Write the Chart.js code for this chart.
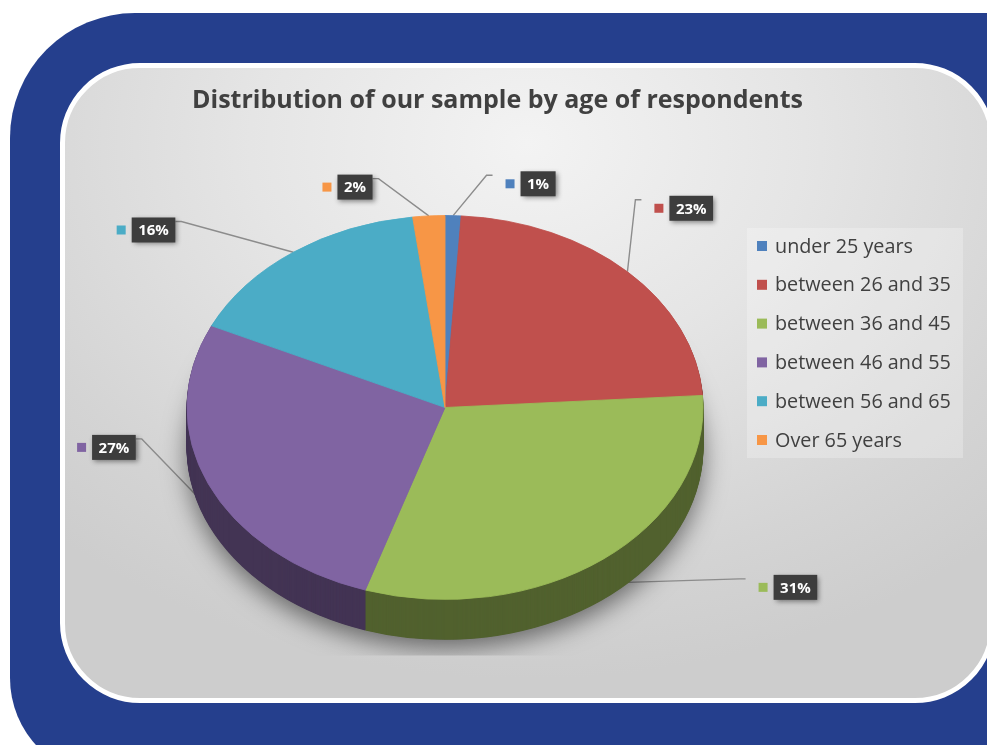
<!DOCTYPE html>
<html>
<head>
<meta charset="utf-8">
<title>Distribution of our sample by age of respondents</title>
<script src="https://cdn.jsdelivr.net/npm/chart.js@4.4.1/dist/chart.umd.min.js"></script>
<style>
  html, body { margin: 0; padding: 0; width: 987px; height: 745px; overflow: hidden; background: #ffffff; }
  #frame {
    position: absolute; left: 10px; top: 13px; width: 1010px; height: 765px;
    background: #253f8d; border-radius: 125px 0 0 100px;
  }
  #panel {
    position: absolute; left: 60px; top: 63px; width: 925px; height: 630px;
    border: 5px solid #ffffff; border-radius: 80px;
    background: radial-gradient(ellipse 75% 85% at 50% 12%, #f3f3f3 0%, #e5e5e5 40%, #d4d4d4 80%, #cdcdcd 100%);
  }
  #c { position: absolute; left: 0; top: 0; }
</style>
</head>
<body>
<div id="frame"></div>
<div id="panel"></div>
<canvas id="c" width="987" height="745"></canvas>
<script>
// ---- data ----
const chartTitle = 'Distribution of our sample by age of respondents';
const categories = [
  'under 25 years',
  'between 26 and 35',
  'between 36 and 45',
  'between 46 and 55',
  'between 56 and 65',
  'Over 65 years'
];
const shares = [1, 23, 31, 27, 16, 2];
const shareLabels = shares.map(v => v + '%');

// ---- styling ----
const palette = ['#4f81bd', '#c0504d', '#9bbb59', '#8064a2', '#4bacc6', '#f79646'];
const TILT = 0.744;   // vertical squash of the pie's top face
const DEPTH = 40;     // height of the pie's side wall (px)
// callout placement per slice: [angle nudge in degrees, distance as a multiple of the radius]
const calloutPlacement = [[15.4, 1.22], [-2.4, 1.41], [-17.6, 1.65], [14.2, 1.30], [-14.7, 1.46], [-13.3, 1.20]];
const legendBox = { left: 747, top: 228, width: 216, height: 230, firstRow: 18, rowGap: 38.8, key: 10 };
const titleBox = { left: 192, middle: 101, size: 25 };
const TEXT = '#404040';
const FAMILY = '"Open Sans"';

function shade(hex, f) {
  const n = parseInt(hex.slice(1), 16);
  const r = (n >> 16) & 255, g = (n >> 8) & 255, b = n & 255;
  return `rgb(${Math.round(r * f)},${Math.round(g * f)},${Math.round(b * f)})`;
}
const wallColors = palette.map(c => shade(c, 0.52));

function pieGeom(chart) {
  const arcs = chart.getDatasetMeta(0).data;
  const a0 = arcs[0];
  return { arcs, cx: a0.x, cy: a0.y, R: a0.outerRadius };
}
function tiltAround(ctx, cy, dy) {
  ctx.translate(0, cy + dy);
  ctx.scale(1, TILT);
  ctx.translate(0, -cy);
}
function wedge(ctx, cx, cy, R, a, b) {
  ctx.beginPath();
  ctx.moveTo(cx, cy);
  ctx.arc(cx, cy, R, a, b);
  ctx.closePath();
}

function calloutGeometry(chart) {
  const { arcs, cx, cy, R } = pieGeom(chart);
  return arcs.map((arc, i) => {
    const mid = (arc.startAngle + arc.endAngle) / 2;
    let ax = cx + R * Math.cos(mid);
    let ay = cy + R * Math.sin(mid) * TILT;
    if (Math.sin(mid) > 0.3) ay += DEPTH * 0.6;
    const [nudge, f] = calloutPlacement[i];
    const a = mid + nudge * Math.PI / 180;
    return {
      ax, ay,
      lx: cx + R * f * Math.cos(a),
      ly: cy + R * f * Math.sin(a) * TILT,
      text: shareLabels[i],
      color: palette[i]
    };
  });
}

const LABEL_FONT = 'bold 15px ' + FAMILY;
function boxFor(ctx, c) {
  ctx.font = LABEL_FONT;
  const w = ctx.measureText(c.text).width + 13;
  const h = 25;
  return { left: c.lx - w / 2, top: c.ly - h / 2, w, h };
}

// Side wall, floor shadow and the squash of the top face
const pie3d = {
  id: 'pie3d',
  beforeDatasetsDraw(chart) {
    const ctx = chart.ctx;
    const { arcs, cx, cy, R } = pieGeom(chart);

    // leader lines sit underneath the pie
    ctx.save();
    ctx.strokeStyle = '#8c8c8c';
    ctx.lineWidth = 1.4;
    calloutGeometry(chart).forEach(c => {
      const b = boxFor(ctx, c);
      const y0 = b.top + 4;
      let sx, ex;
      if (c.lx > c.ax) { sx = b.left - 15 - 13; ex = sx - 6; }
      else { sx = b.left + b.w; ex = sx + 6; }
      ctx.beginPath();
      ctx.moveTo(sx, y0);
      ctx.lineTo(ex, y0);
      ctx.lineTo(c.ax, c.ay);
      ctx.stroke();
    });
    ctx.restore();

    // soft floor shadow, cut off by the plot floor
    ctx.save();
    ctx.beginPath();
    ctx.rect(0, 0, chart.width, cy + R * TILT + DEPTH + 16);
    ctx.clip();
    ctx.shadowColor = 'rgba(0,0,0,0.5)';
    ctx.shadowBlur = 24;
    ctx.shadowOffsetY = 9;
    ctx.save();
    tiltAround(ctx, cy, DEPTH);
    ctx.beginPath();
    ctx.arc(cx, cy, R, 0, Math.PI * 2);
    ctx.fillStyle = '#555';
    ctx.fill();
    ctx.restore();
    ctx.restore();

    // side wall: stacked slices from the bottom up
    for (let s = DEPTH; s >= 1; s--) {
      ctx.save();
      tiltAround(ctx, cy, s);
      arcs.forEach((arc, i) => {
        wedge(ctx, cx, cy, R + 0.5, arc.startAngle, arc.endAngle);
        ctx.fillStyle = wallColors[i];
        ctx.fill();
      });
      ctx.restore();
    }

    // top face drawn by Chart.js inside the squashed frame
    ctx.save();
    tiltAround(ctx, cy, 0);
  },
  afterDatasetsDraw(chart) {
    chart.ctx.restore();
  }
};

// Dark value boxes with colour keys
const callouts = {
  id: 'callouts',
  afterDatasetsDraw(chart) {
    const ctx = chart.ctx;
    calloutGeometry(chart).forEach(c => {
      const b = boxFor(ctx, c);
      ctx.save();
      ctx.shadowColor = 'rgba(0,0,0,0.45)';
      ctx.shadowBlur = 5;
      ctx.shadowOffsetX = 2;
      ctx.shadowOffsetY = 2;
      ctx.fillStyle = '#3d3d3d';
      ctx.fillRect(b.left, b.top, b.w, b.h);
      ctx.restore();

      ctx.fillStyle = c.color;
      ctx.fillRect(b.left - 15, c.ly - 4.5, 9, 9);

      ctx.font = LABEL_FONT;
      ctx.fillStyle = '#ffffff';
      ctx.textAlign = 'center';
      ctx.textBaseline = 'middle';
      ctx.fillText(c.text, c.lx, c.ly + 1);
    });
  }
};

// Title and legend panel
const frameText = {
  id: 'frameText',
  afterDraw(chart) {
    const ctx = chart.ctx;
    ctx.save();
    ctx.font = `bold ${titleBox.size}px ${FAMILY}`;
    ctx.fillStyle = TEXT;
    ctx.textAlign = 'left';
    ctx.textBaseline = 'middle';
    ctx.fillText(chartTitle, titleBox.left, titleBox.middle);

    const L = legendBox;
    ctx.fillStyle = 'rgba(255,255,255,0.25)';
    ctx.fillRect(L.left, L.top, L.width, L.height);
    ctx.font = '19.8px ' + FAMILY;
    chart.data.labels.forEach((label, i) => {
      const y = L.top + L.firstRow + i * L.rowGap;
      ctx.fillStyle = palette[i];
      ctx.fillRect(L.left + 10, y - L.key / 2, L.key, L.key);
      ctx.fillStyle = TEXT;
      ctx.fillText(label, L.left + 28, y + 1);
    });
    ctx.restore();
  }
};

function build() {
  new Chart(document.getElementById('c'), {
    type: 'pie',
    data: {
      labels: categories,
      datasets: [{
        data: shares,
        backgroundColor: palette,
        borderColor: palette,
        borderWidth: 1,
        radius: 258,
        clip: false
      }]
    },
    options: {
      responsive: false,
      animation: false,
      events: [],
      layout: { padding: { left: 187, right: 284, top: 127, bottom: 57 } },
      plugins: {
        legend: { display: false },
        tooltip: { enabled: false },
        title: { display: false }
      }
    },
    plugins: [pie3d, callouts, frameText]
  });
}

Promise.all([
  document.fonts.load('bold 25px "Open Sans"'),
  document.fonts.load('19.8px "Open Sans"'),
  document.fonts.load('bold 15px "Open Sans"')
]).then(build, build);
</script>
</body>
</html>
